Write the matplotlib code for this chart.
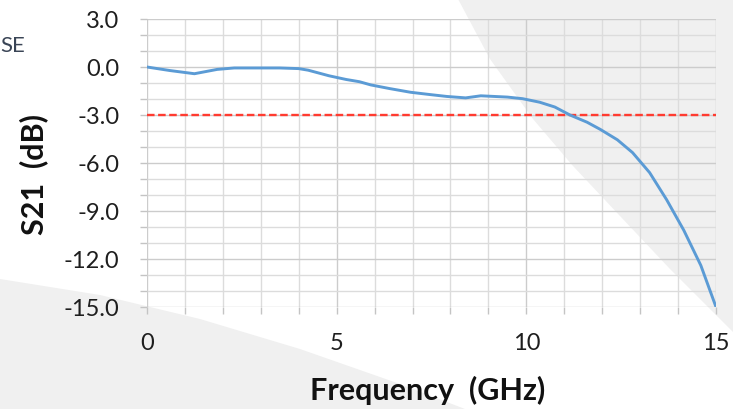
import numpy as np
import matplotlib
matplotlib.use('Agg')
import matplotlib.pyplot as plt
from matplotlib.patches import Polygon
from matplotlib.ticker import MultipleLocator, FormatStrFormatter

# S21 response
freq_ghz = [0.0, 0.6, 1.25, 1.85, 2.3, 3.0, 3.5, 4.0, 4.25, 4.8, 5.25, 5.6,
            5.9, 6.4, 6.95, 7.45, 7.9, 8.4, 8.8, 9.5, 9.9, 10.35, 10.75,
            11.15, 11.6, 11.95, 12.4, 12.8, 13.25, 13.7, 14.15, 14.6, 15.0]
s21_db = [0.0, -0.22, -0.42, -0.15, -0.06, -0.06, -0.06, -0.1, -0.2, -0.55,
          -0.78, -0.92, -1.12, -1.35, -1.58, -1.72, -1.84, -1.93, -1.8, -1.88,
          -1.98, -2.2, -2.5, -3.0, -3.45, -3.9, -4.55, -5.35, -6.6, -8.3,
          -10.2, -12.4, -15.0]
cutoff_db = -3.0
x_range = [0, 15]
y_range = [-15, 3]

W, H = 733, 410
fig = plt.figure(figsize=(W / 100, H / 100), dpi=100)
fig.patch.set_facecolor('white')

# slide background shapes (pixel coords), behind everything
bg = '#f0f0f0'
right_shape = [(458, 0), (490, 60), (533, 120), (573, 167), (620, 217),
               (670, 270), (720, 320), (733, 333), (733, 0)]
left_shape = [(0, 280), (100, 296), (200, 320), (300, 350), (400, 385),
              (465, 410), (0, 410)]
for shp in (right_shape, left_shape):
    pts = [(x / W, 1 - y / H) for x, y in shp]
    fig.patches.append(Polygon(pts, closed=True, transform=fig.transFigure,
                               facecolor=bg, edgecolor='none', zorder=-5))

fig.text(0.5 / W, 1 - 46 / H, 'SE', ha='left', va='center', fontsize=16,
         color='#3a4556', family='Lato')

ax = fig.add_axes([147 / W, 1 - 308 / H, (716 - 147) / W, (308 - 20) / H])
ax.set_facecolor('none')

ax.plot(freq_ghz, s21_db, color='#5b9bd5', lw=2.1, zorder=3)
ax.plot(x_range, [cutoff_db, cutoff_db], color='#ff3b30', lw=1.7,
        dashes=(3.2, 1.5), zorder=2)

ax.set_xlim(x_range)
ax.set_ylim(y_range)
ax.xaxis.set_major_locator(MultipleLocator(5))
ax.xaxis.set_minor_locator(MultipleLocator(1))
ax.yaxis.set_major_locator(MultipleLocator(3))
ax.yaxis.set_minor_locator(MultipleLocator(1))
ax.yaxis.set_major_formatter(FormatStrFormatter('%.1f'))

ax.grid(which='major', color='#cccccc', lw=1.0)
ax.grid(which='minor', color='#dcdcdc', lw=1.0)
ax.set_axisbelow(True)

for s in ax.spines.values():
    s.set_visible(False)

ax.tick_params(which='both', length=5, width=1, color='#c4c4c4')
ax.tick_params(axis='y', which='major', pad=15)
ax.tick_params(axis='x', which='major', pad=13)
for lab in ax.get_xticklabels() + ax.get_yticklabels():
    lab.set_family('Lato')
    lab.set_fontsize(17)
    lab.set_color('#1e1e1e')

ax.set_xlabel('Frequency  (GHz)', family='Lato', fontweight='bold',
              fontsize=22, color='#111111', va='center')
ax.xaxis.set_label_coords(0.494, -0.288)
ax.set_ylabel('S21  (dB)', family='Lato', fontweight='bold',
              fontsize=22, color='#111111', va='center')
ax.yaxis.set_label_coords(-0.199, 0.462)

fig.savefig('out.png', dpi=100)
